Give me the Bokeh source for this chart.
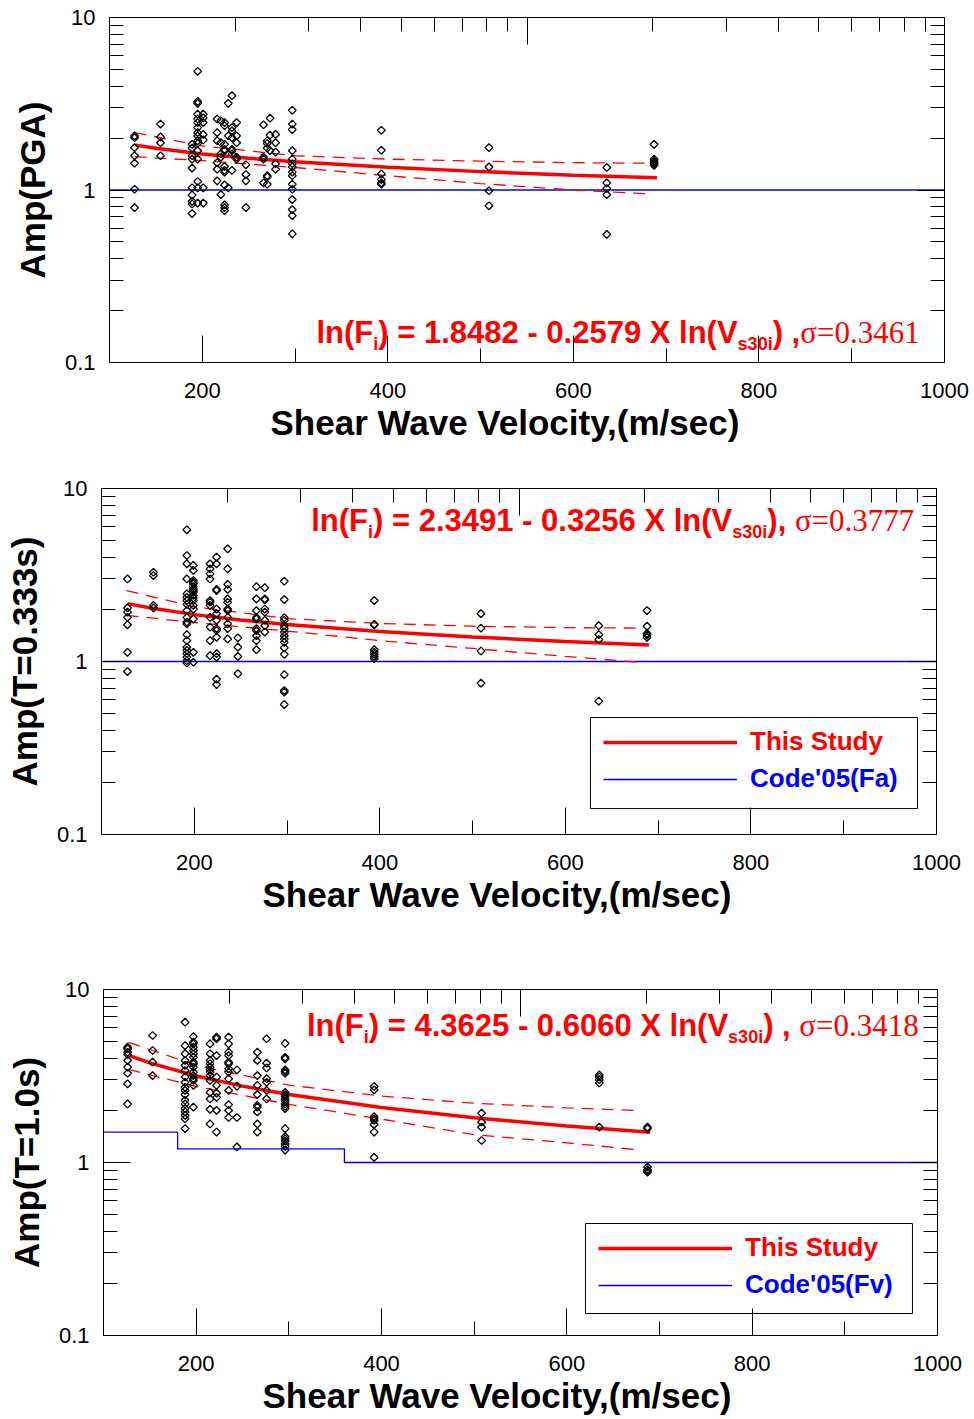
import numpy as np
from bokeh.plotting import figure
from bokeh.models import (LogAxis, FixedTicker, Range1d, LogScale, Label, Legend,
                          LegendItem, BoxAnnotation, Title, CustomJSTickFormatter)
from bokeh.embed import file_html
from bokeh.resources import INLINE

# ------------------------------------------------------------------ data
# Panel 1 : Amp(PGA)
pga_sites = [127, 155, 189, 195, 201, 216, 220, 224, 228, 232, 237, 247, 266, 270,
             273, 279, 297, 393, 509, 636, 687]
pga_amps = [
    [2.06, 2.01, 1.76, 1.58, 1.43, 1.01, 0.79],
    [2.41, 2.03, 1.88, 1.58],
    [1.84, 1.75, 1.58, 1.51, 1.34, 1.03, 0.935, 0.86, 0.83, 0.73],
    [4.87, 3.26, 3.18, 2.75, 2.58, 2.46, 2.30, 2.15, 2.06, 1.93, 1.86, 1.69, 1.51, 1.12, 1.03, 0.84],
    [2.75, 2.62, 2.46, 2.10, 1.95, 1.03, 0.84],
    [2.58, 2.15, 1.93, 1.44, 1.32, 1.13],
    [2.52, 1.88, 1.62, 1.55, 0.94],
    [2.46, 2.36, 1.84, 1.72, 1.69, 1.37, 1.30, 1.27, 1.07, 0.82, 0.79, 0.76],
    [3.18, 2.06, 1.03],
    [3.52, 2.30, 2.20, 2.01, 1.72, 1.69, 1.62, 1.30],
    [2.46, 2.06, 1.88, 1.55, 1.51],
    [1.40, 1.23, 1.13, 0.79],
    [2.39, 1.55, 1.51, 1.10],
    [1.93, 1.86, 1.75, 1.21, 1.19, 1.08],
    [2.61, 2.08, 1.69],
    [2.10, 1.88, 1.66, 1.42, 1.32],
    [2.90, 2.41, 2.24, 1.69, 1.51, 1.42, 1.36, 1.27, 1.21, 1.08, 1.01, 0.88, 0.77, 0.71, 0.557],
    [2.22, 1.70, 1.24, 1.15, 1.10, 1.08],
    [1.76, 1.36, 0.99, 0.81],
    [1.35, 1.10, 1.02, 0.94, 0.553],
    [1.84, 1.51, 1.47, 1.44, 1.42, 1.39],
]

# Panel 2 : Amp(T=0.333s)
t03_sites = [128, 156, 192, 199, 217, 224, 236, 247, 267, 276, 297, 394, 509, 636, 688]
t03_amps = [
    [3.0, 2.04, 1.93, 1.80, 1.63, 1.13, 0.875],
    [3.28, 3.14, 2.11, 2.04],
    [5.77, 4.10, 3.67, 3.0, 2.46, 2.35, 2.25, 2.14, 1.97, 1.80, 1.69, 1.65, 1.43, 1.32, 1.21, 1.16, 1.11, 1.06, 1.01, 0.98],
    [3.59, 3.36, 2.94, 2.87, 2.81, 2.71, 2.63, 2.57, 2.52, 2.41, 2.33, 2.25, 2.11, 2.01, 1.76, 1.13, 0.99],
    [3.67, 3.43, 3.21, 3.0, 2.25, 2.20, 2.11, 1.80, 1.58, 1.32, 1.08],
    [4.01, 3.67, 2.61, 2.57, 2.01, 1.89, 1.73, 1.55, 1.51, 1.38, 1.11, 1.06, 0.79, 0.736],
    [4.48, 3.43, 2.79, 2.61, 2.30, 2.20, 2.01, 1.97, 1.80, 1.65, 1.55, 1.35],
    [1.37, 1.21, 1.07, 0.85],
    [2.71, 2.30, 1.97, 1.80, 1.76, 1.55, 1.51, 1.41, 1.32, 1.17],
    [2.67, 2.30, 2.27, 2.01, 1.93, 1.73, 1.61, 1.48],
    [2.91, 2.28, 1.79, 1.73, 1.61, 1.55, 1.48, 1.41, 1.35, 1.29, 1.20, 1.10, 0.84, 0.68, 0.665, 0.564],
    [2.25, 1.64, 1.63, 1.17, 1.13, 1.10, 1.07, 1.04],
    [1.89, 1.56, 1.15, 0.75],
    [1.61, 1.43, 1.34, 0.59],
    [1.97, 1.60, 1.45, 1.42, 1.38],
]

# Panel 3 : Amp(T=1.0s)
t10_sites = [126, 153, 188, 197, 215, 222, 235, 244, 266, 276, 296, 392, 508, 635, 687]
t10_amps = [
    [4.64, 4.54, 4.34, 4.21, 3.89, 3.56, 3.28, 2.85, 2.18],
    [5.42, 4.44, 3.80, 3.18],
    [6.47, 4.74, 4.25, 3.89, 3.64, 3.40, 3.12, 2.91, 2.72, 2.61, 2.47, 2.29, 2.18, 2.05, 1.96, 1.87, 1.79, 1.57],
    [5.34, 4.96, 4.85, 4.64, 4.44, 4.25, 4.06, 3.80, 3.72, 3.56, 3.33, 3.18, 3.05, 2.98, 2.79, 2.09],
    [4.85, 4.25, 3.89, 3.72, 3.56, 3.43, 3.33, 3.18, 2.98, 2.54, 2.33, 2.03, 1.67],
    [5.30, 5.19, 4.15, 3.12, 2.79, 2.52, 2.38, 2.00, 1.50],
    [5.30, 4.85, 4.34, 4.15, 3.80, 3.72, 3.48, 3.33, 3.05, 2.61, 2.16, 2.00, 1.82],
    [3.43, 2.76, 1.82, 1.23],
    [4.34, 3.89, 3.18, 2.79, 2.47, 2.14, 2.09, 1.96, 1.67, 1.50],
    [5.19, 3.75, 3.52, 3.05, 2.91, 2.61, 2.33],
    [4.88, 4.06, 3.97, 3.43, 3.36, 3.28, 2.54, 2.47, 2.41, 2.33, 2.26, 2.18, 2.11, 2.05, 1.57, 1.41, 1.37, 1.33, 1.28, 1.24, 1.18],
    [2.75, 2.63, 1.84, 1.79, 1.75, 1.66, 1.50, 1.07],
    [1.93, 1.71, 1.60, 1.34],
    [3.21, 3.12, 3.01, 2.88, 1.60],
    [1.60, 1.57, 0.94, 0.91, 0.89, 0.88],
]

# regression curves (This Study)
fit_vs = [128, 150, 200, 250, 300, 400, 500, 600, 690]
pga_fit = [1.82, 1.744, 1.619, 1.528, 1.458, 1.354, 1.278, 1.219, 1.176]
t03_fit = [2.16, 2.050, 1.866, 1.736, 1.635, 1.489, 1.385, 1.305, 1.247]
t10_fit = [4.15, 3.767, 3.164, 2.764, 2.475, 2.079, 1.816, 1.626, 1.494]

# dashed confidence bands
band_vs = [127, 200, 300, 400, 500, 600, 680]
band_vs3 = [127, 200, 300, 400, 500, 600, 672]
pga_up = [2.15, 1.80, 1.58, 1.51, 1.47, 1.44, 1.43]
pga_lo = [1.56, 1.48, 1.35, 1.21, 1.09, 1.00, 0.95]
t03_up = [2.57, 2.07, 1.77, 1.66, 1.60, 1.57, 1.56]
t03_lo = [1.85, 1.68, 1.50, 1.32, 1.19, 1.07, 0.99]
t10_up = [4.95, 3.65, 2.80, 2.42, 2.20, 2.07, 2.00]
t10_lo = [3.45, 2.75, 2.17, 1.78, 1.45, 1.30, 1.19]

# Code'05 site factors
code_fa_vs = [100, 1000]
code_fa = [1.0, 1.0]
code_fv_vs = [100, 180, 360, 1000]
code_fv = [1.5, 1.2, 1.0, 1.0]

# regression equations
eq_const = ["1.8482", "2.3491", "4.3625"]
eq_slope = ["0.2579", "0.3256", "0.6060"]
eq_sigma = ["0.3461", "0.3777", "0.3418"]
eq_sep = [") ,", "), ", ") , "]

y_labels = ["Amp(PGA)", "Amp(T=0.333s)", "Amp(T=1.0s)"]
x_label = "Shear Wave Velocity,(m/sec)"
legend_labels = ["This Study", "Code'05(Fa)", "Code'05(Fv)"]

y_major = [0.1, 1, 10]
y_minor = [0.2, 0.3, 0.4, 0.5, 0.6, 0.7, 0.8, 0.9, 2, 3, 4, 5, 6, 7, 8, 9]
x_major = [200, 400, 600, 800, 1000]
x_minor = [100, 300, 500, 700, 900]
top_major = [10, 100, 1000]
top_minor = [20, 30, 40, 50, 60, 70, 80, 90, 200, 300, 400, 500, 600, 700, 800, 900]

# ------------------------------------------------------------------ style
SANS = "Liberation Sans"
SERIF = "Liberation Serif"
RED = "#ff0000"
BLUE = "#0000ff"
W = 974

AW = {' ': 278, '(': 333, ')': 333, ',': 278, '-': 333, '.': 278, '=': 584,
      'F': 611, 'V': 667, 'X': 667, 'l': 278, 'n': 611, 'i': 278, 's': 556}


def twidth(text, size):
    return sum(AW.get(c, 556) for c in text) / 1000.0 * size


def flatten(sites, amps):
    xs, ys = [], []
    for s, a in zip(sites, amps):
        xs += [s] * len(a)
        ys += a
    return xs, ys


def style_axis(ax, blank=False):
    ax.major_tick_in = 27
    ax.major_tick_out = 0
    ax.minor_tick_in = 14
    ax.minor_tick_out = 0
    ax.axis_line_color = "black"
    ax.major_tick_line_color = "black"
    ax.minor_tick_line_color = "black"
    ax.major_label_text_font = SANS
    ax.major_label_text_font_size = "22px"
    ax.major_label_text_color = "black"
    if blank:
        ax.formatter = CustomJSTickFormatter(code="return '';")
        ax.major_label_text_font_size = "0px"
        ax.major_label_standoff = 0


def panel(height, bl, br, bt, bb, ylabel, title_off):
    p = figure(width=W, height=height, x_range=Range1d(100, 1000), y_range=Range1d(0.1, 10),
               y_axis_type="log", output_backend="svg", toolbar_location=None,
               min_border_left=bl, min_border_right=br, min_border_top=bt, min_border_bottom=bb)
    p.xgrid.visible = False
    p.ygrid.visible = False
    p.outline_line_color = "black"
    p.outline_line_width = 1
    xa = p.xaxis[0]
    ya = p.yaxis[0]
    xa.ticker = FixedTicker(ticks=x_major, minor_ticks=x_minor)
    ya.ticker = FixedTicker(ticks=y_major, minor_ticks=y_minor)
    ya.formatter = CustomJSTickFormatter(code="return tick.toString();")
    style_axis(xa)
    style_axis(ya)
    xa.major_label_standoff = 20
    ya.major_label_standoff = 14
    ya.axis_label = ylabel
    ya.axis_label_text_font = SANS
    ya.axis_label_text_font_style = "bold"
    ya.axis_label_text_font_size = "35px"
    ya.axis_label_text_color = "black"
    ya.axis_label_standoff = 10

    p.extra_x_ranges = {"top": Range1d(10, 1000)}
    p.extra_x_scales = {"top": LogScale()}
    top = LogAxis(x_range_name="top", ticker=FixedTicker(ticks=top_major, minor_ticks=top_minor))
    style_axis(top, blank=True)
    p.add_layout(top, "above")
    right = LogAxis(ticker=FixedTicker(ticks=y_major, minor_ticks=y_minor))
    style_axis(right, blank=True)
    p.add_layout(right, "right")

    p.add_layout(Title(text=x_label, align="left", offset=title_off, text_font=SANS,
                       text_font_style="bold", text_font_size="35px", text_color="black",
                       standoff=0), "below")
    return p


def add_points(p, sites, amps):
    xs, ys = flatten(sites, amps)
    p.scatter(xs, ys, marker="square", angle=np.pi / 4, size=5.5, line_color="black",
              line_width=1.3, fill_color=None)


def add_curves(p, bvs, up, lo, fit, cvs, cvals, step):
    if step:
        code_r = p.step(cvs, cvals, mode="after", line_color=BLUE, line_width=1.3, line_alpha=1.0)
    else:
        code_r = p.line(cvs, cvals, line_color=BLUE, line_width=1.3, line_alpha=1.0)
    p.line(bvs, up, line_color=RED, line_width=1.3, line_dash="12 8")
    p.line(bvs, lo, line_color=RED, line_width=1.3, line_dash="12 8")
    fit_r = p.line(fit_vs, fit, line_color=RED, line_width=3.5)
    return fit_r, code_r


def add_equation(p, x, y, k):
    F, S = 31, 18
    main = dict(text_font=SANS, text_font_style="bold", text_color=RED,
                text_baseline="middle", text_align="left")
    pieces = [
        ("ln(F", F, 0, main),
        ("i", S, -11.5, main),
        (") = %s - %s X ln(V" % (eq_const[k], eq_slope[k]), F, 0, main),
        ("s30i", S, -11.5, main),
        (eq_sep[k], F, 0, main),
    ]
    off = 0.0
    for txt, size, dy, st in pieces:
        p.add_layout(Label(x=x, y=y, x_offset=off, y_offset=dy, text=txt,
                           text_font_size="%dpx" % size, **st))
        off += twidth(txt, size)
    p.add_layout(Label(x=x, y=y, x_offset=off, text="\u03c3=" + eq_sigma[k], text_font=SERIF,
                       text_font_size="%dpx" % F, text_color=RED, text_baseline="middle",
                       text_align="left"))


def add_legend(p, fit_r, code_r, code_label, vx, vy_red, vy_blue, box):
    common = dict(padding=0, margin=0, spacing=0, glyph_width=134, glyph_height=30,
                  label_height=30, label_standoff=13, label_text_font=SANS,
                  label_text_font_style="bold", label_text_font_size="26px",
                  border_line_alpha=0, background_fill_alpha=0)
    l1 = Legend(items=[LegendItem(label=legend_labels[0], renderers=[fit_r])],
                location=(vx, vy_red), label_text_color=RED, **common)
    l2 = Legend(items=[LegendItem(label=code_label, renderers=[code_r])],
                location=(vx, vy_blue), label_text_color=BLUE, **common)
    p.add_layout(l1)
    p.add_layout(l2)
    p.add_layout(BoxAnnotation(left=box[0], right=box[1], top=box[2], bottom=box[3],
                               fill_alpha=0, line_color="black", line_width=1, line_alpha=1))


# ---------------- panel 1
p1 = panel(470, 109, 30, 17, 108, y_labels[0], 161)
add_curves(p1, band_vs, pga_up, pga_lo, pga_fit, code_fa_vs, code_fa, False)
add_points(p1, pga_sites, pga_amps)
add_equation(p1, 323.1, 0.1489, 0)

# ---------------- panel 2
p2 = panel(502, 101, 38, 18, 138, y_labels[1], 161)
f2, c2 = add_curves(p2, band_vs, t03_up, t03_lo, t03_fit, code_fa_vs, code_fa, False)
add_points(p2, t03_sites, t03_amps)
add_equation(p2, 326.0, 6.506, 1)
add_legend(p2, f2, c2, legend_labels[1], 502, 77, 40, (627.0, 979.5, 0.4746, 0.1412))

# ---------------- panel 3
p3 = panel(447, 103, 37, 17, 84, y_labels[2], 159)
f3, c3 = add_curves(p3, band_vs3, t10_up, t10_lo, t10_fit, code_fv_vs, code_fv, True)
add_points(p3, t10_sites, t10_amps)
add_equation(p3, 319.6, 6.17, 2)
add_legend(p3, f3, c3, legend_labels[2], 495, 72, 35, (620.1, 973.0, 0.444, 0.134))

# three independent roots, stacked, so that each frame keeps its own borders
open("out.html", "w").write(file_html([p1, p2, p3], INLINE))
